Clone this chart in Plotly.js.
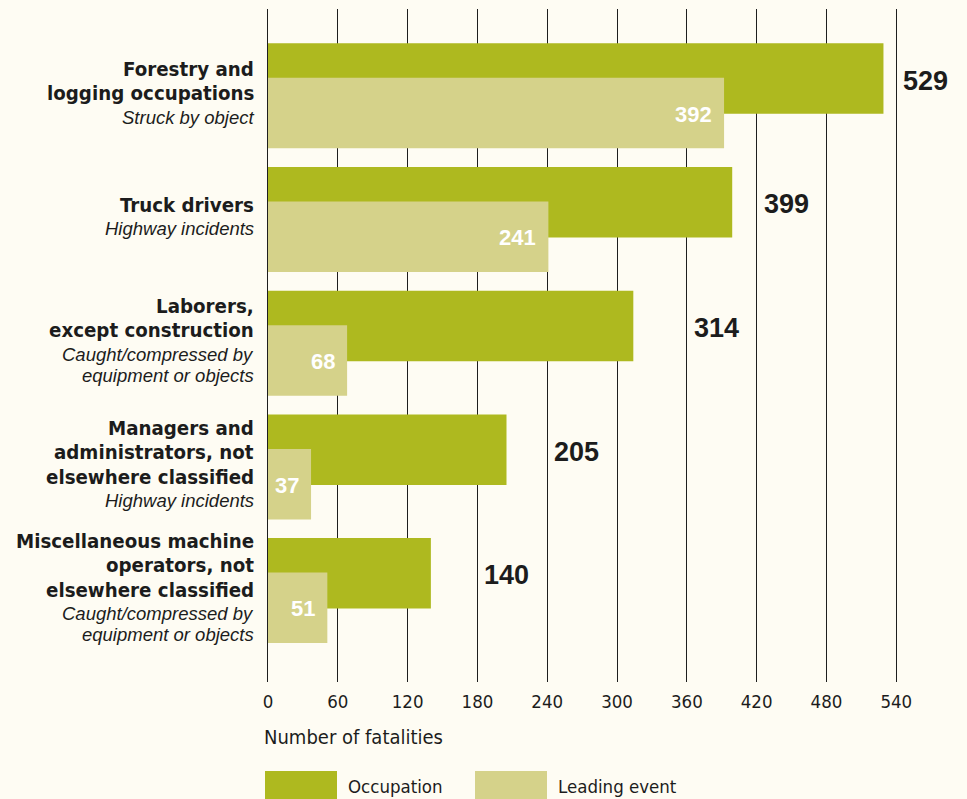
<!DOCTYPE html>
<html>
<head>
<meta charset="utf-8">
<script src="https://cdn.plot.ly/plotly-3.0.1.min.js"></script>
<style>
  html, body { margin: 0; padding: 0; background: #fefcf3; }
  #chart { width: 967px; height: 799px; }
</style>
</head>
<body>
<div id="chart"></div>
<script>
// ---- Data ----
const categories = [
  'Forestry and<br>logging occupations',
  'Truck drivers',
  'Laborers,<br>except construction',
  'Managers and<br>administrators, not<br>elsewhere classified',
  'Miscellaneous machine<br>operators, not<br>elsewhere classified'
];
const leadingEvents = [
  'Struck by object',
  'Highway incidents',
  'Caught/compressed by<br>equipment or objects',
  'Highway incidents',
  'Caught/compressed by<br>equipment or objects'
];
const occupationValues = [529, 399, 314, 205, 140];
const leadingEventValues = [392, 241, 68, 37, 51];
const seriesNames = ['Occupation', 'Leading event'];
const xTicks = [0, 60, 120, 180, 240, 300, 360, 420, 480, 540];
const xAxisTitle = 'Number of fatalities';

// ---- Style ----
const NARROW = '"Liberation Sans Narrow", "DejaVu Sans Condensed", "Arial Narrow", sans-serif';
const SANS = '"Liberation Sans", Arial, Helvetica, sans-serif';
const BG = '#fefcf3';
const OCC_COLOR = '#aeb91f';
const LEAD_COLOR = '#d5d28a';
const INK = '#1c1c1c';

const W = 967, H = 799;
const M = {l: 268, r: 69, t: 9, b: 117};
const PW = W - M.l - M.r, PH = H - M.t - M.b;
const px2x = px => (px - M.l) / PW;
const px2y = py => (H - M.b - py) / PH;

const pos = categories.map((_, i) => i);
const UNIT = 123.7;              // px per category
const BAR_W = 70.5 / UNIT;
const OCC_OFF = -52.5 / UNIT;
const LEAD_OFF = -18 / UNIT;

const traces = [
  {
    type: 'bar', orientation: 'h', name: seriesNames[0],
    x: occupationValues, y: pos,
    width: BAR_W, offset: OCC_OFF,
    marker: {color: OCC_COLOR, line: {width: 0}},
    hoverinfo: 'x', showlegend: false
  },
  {
    type: 'bar', orientation: 'h', name: seriesNames[1],
    x: leadingEventValues, y: pos,
    width: BAR_W, offset: LEAD_OFF,
    marker: {color: LEAD_COLOR, line: {width: 0}},
    hoverinfo: 'x', showlegend: false
  }
];

const annotations = [];
const shapes = [];

// Category labels (bold name lines + italic event lines)
const BOLD_SIZE = 20.3, IT_SIZE = 18.5;
const BOLD_GAP = 24.3, MID_GAP = 23, IT_GAP = 21, BOLD_CAP = 16.7;
categories.forEach((cat, i) => {
  const bl = cat.split('<br>');
  const il = leadingEvents[i].split('<br>');
  const lines = [];
  let b = 0;
  bl.forEach((t, k) => { lines.push({t, bold: true, base: b}); if (k < bl.length - 1) b += BOLD_GAP; });
  b += MID_GAP;
  il.forEach((t, k) => { lines.push({t, bold: false, base: b}); if (k < il.length - 1) b += IT_GAP; });
  const top = -BOLD_CAP, bottom = b;
  const mid = (top + bottom) / 2 + 4;
  lines.forEach(L => {
    const center = L.base - (L.bold ? 7.5 : 6.5) - mid; // px below group center
    annotations.push({
      xref: 'paper', yref: 'y', x: 0, y: i + OCC_OFF + (52.5 / UNIT),
      xanchor: 'right', yanchor: 'middle', xshift: -12, yshift: -center,
      text: L.bold ? '<b>' + L.t + '</b>' : '<i>' + L.t + '</i>',
      showarrow: false,
      font: L.bold ? {family: NARROW, size: BOLD_SIZE, color: INK}
                   : {family: SANS, size: IT_SIZE, color: INK}
    });
  });
});

// Occupation value labels: placed just right of the next gridline
occupationValues.forEach((v, i) => {
  annotations.push({
    xref: 'x', yref: 'y', x: Math.ceil(v / 60) * 60, y: i + OCC_OFF + BAR_W / 2,
    xanchor: 'left', yanchor: 'middle', xshift: 5, yshift: -2,
    text: '<b>' + v + '</b>', showarrow: false,
    font: {family: SANS, size: 27, color: INK}
  });
});

// Leading event value labels, inside bar end
leadingEventValues.forEach((v, i) => {
  annotations.push({
    xref: 'x', yref: 'y', x: v, y: i + LEAD_OFF + BAR_W / 2,
    xanchor: 'right', yanchor: 'middle', xshift: -10, yshift: -1,
    text: '<b>' + v + '</b>', showarrow: false,
    font: {family: SANS, size: 22, color: '#ffffff'}
  });
});

// X-axis title
annotations.push({
  xref: 'paper', yref: 'paper', x: px2x(262), y: px2y(737),
  xanchor: 'left', yanchor: 'middle', text: xAxisTitle, showarrow: false,
  font: {family: NARROW, size: 20, color: INK}
});

// Legend
const legendColors = [OCC_COLOR, LEAD_COLOR];
const legendX = [265, 475];
seriesNames.forEach((n, k) => {
  shapes.push({
    type: 'rect', xref: 'paper', yref: 'paper',
    x0: px2x(legendX[k]), x1: px2x(legendX[k] + 72),
    y0: px2y(771), y1: px2y(805),
    fillcolor: legendColors[k], line: {width: 0}
  });
  annotations.push({
    xref: 'paper', yref: 'paper', x: px2x(legendX[k] + 81), y: px2y(787),
    xanchor: 'left', yanchor: 'middle', text: n, showarrow: false,
    font: {family: NARROW, size: 18.5, color: INK}
  });
});

const layout = {
  width: W, height: H,
  margin: M,
  paper_bgcolor: BG, plot_bgcolor: BG,
  barmode: 'overlay',
  showlegend: false,
  xaxis: {
    range: [0, 541.5],
    tickvals: xTicks, ticktext: xTicks.map(String),
    showgrid: true, gridcolor: '#1e1e1e', gridwidth: 1,
    zeroline: false, showline: false, ticks: '',
    ticklabelstandoff: 6,
    tickfont: {family: NARROW, size: 18.5, color: INK},
    fixedrange: true
  },
  yaxis: {
    range: [(682 - 95.8) / UNIT, -(95.8 - 9) / UNIT],
    showticklabels: false, showgrid: false, zeroline: false,
    showline: true, linecolor: '#1e1e1e', linewidth: 1.2,
    fixedrange: true
  },
  annotations, shapes
};

Plotly.newPlot('chart', traces, layout, {displayModeBar: false, staticPlot: true});
</script>
</body>
</html>
